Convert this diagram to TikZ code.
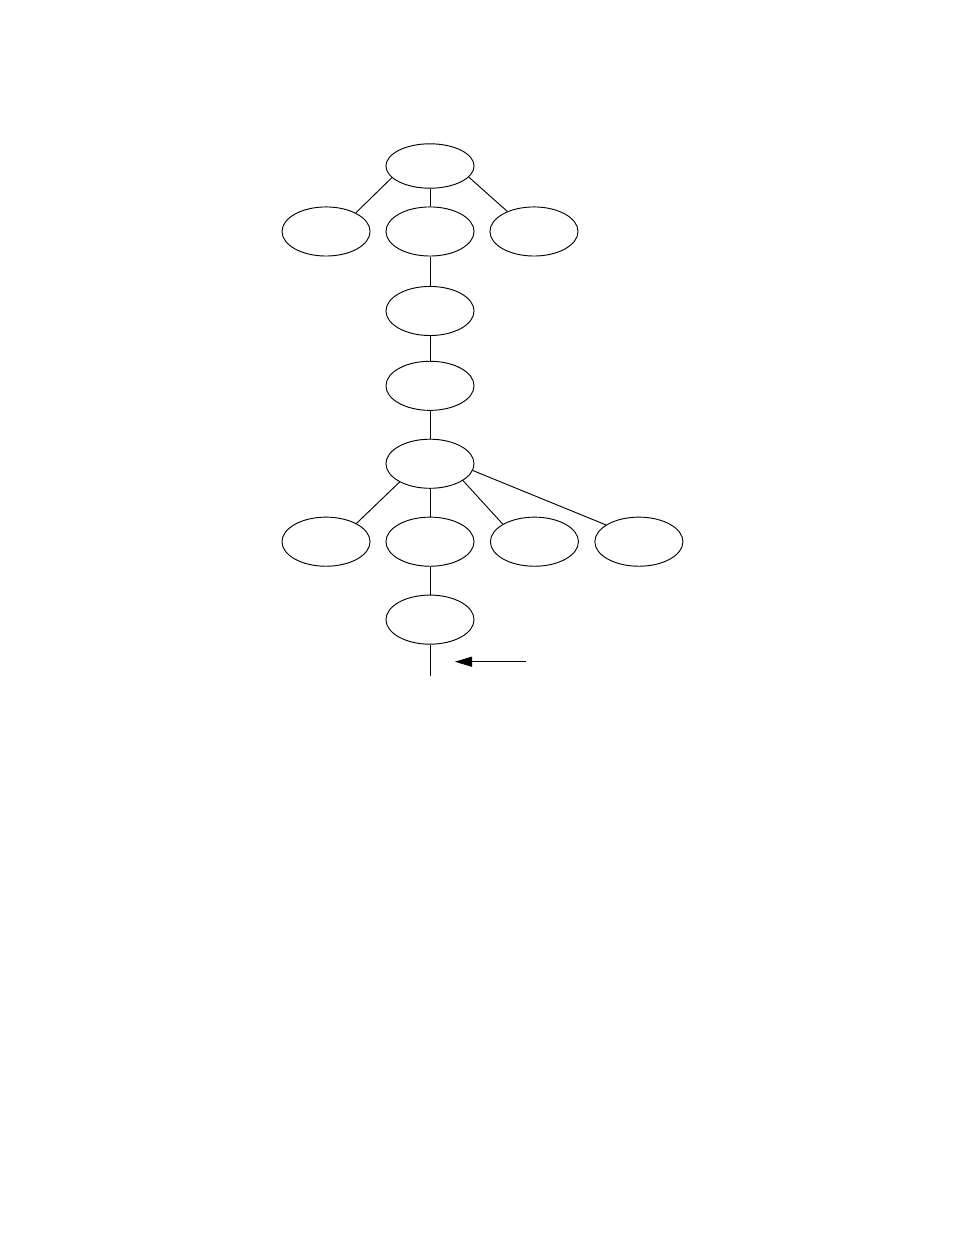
\documentclass[tikz,border=0pt]{standalone}
\usepackage{tikz}
\usetikzlibrary{arrows.meta,positioning,shapes.geometric}
\begin{document}
\begin{tikzpicture}[x=0.6415pt,y=-0.6415pt,node distance=50pt,on grid,line width=0.6pt]
       \tikzstyle{blob}=[draw,ellipse,inner sep=0pt,minimum width=56.5pt,minimum height=31.5pt]
       \useasboundingbox (0,0) rectangle (954,1235);

       \node[blob,minimum height=28.5pt] (n_0) at (430,166) {};
       \node[blob](a_1) [below=42pt of n_0] {};
       \node[blob](a_0) [left=66.7pt of a_1] {};
       \node[blob](a_2) [right=66.7pt of a_1] {};
       \node[blob](n_1) [below=51pt of a_1] {};
       \node[blob](n_2) [below=48pt of n_1] {};
       \node[blob](n_3) [below of=n_2] {};
       \node[blob](b_1) [below of=n_3] {};
       \node[blob](b_0) [left=66.7pt of b_1] {};
       \node[blob](b_2) [right=67pt of b_1] {};
       \node[blob](b_3) [right=67pt of b_2] {};
       \node[blob](n_4) [below of=b_1] {};
       \coordinate[below=36pt of n_4] (end);
       \coordinate (tip) at ([xshift=16pt,yshift=9pt]end);
       \coordinate (tail) at ([xshift=61.5pt,yshift=9pt]end);

       \path
       (n_0.197) edge (a_0.32)
       (n_0) edge (a_1)
       (n_0.344) edge (a_2.143)
       (a_1) edge (n_1)
       (n_1) edge (n_2)
       (n_2) edge (n_3)
       (n_3.211) edge (b_0.31)
       (n_3) edge (b_1)
       (n_3.333) edge (b_2.151)
       (n_3.351) edge (b_3.153)
       (b_1) edge (n_4)
       (n_4) edge (end);
       \draw[-{Triangle[length=11pt,width=6.5pt]}] (tail) -- (tip);
     \end{tikzpicture}
\end{document}
